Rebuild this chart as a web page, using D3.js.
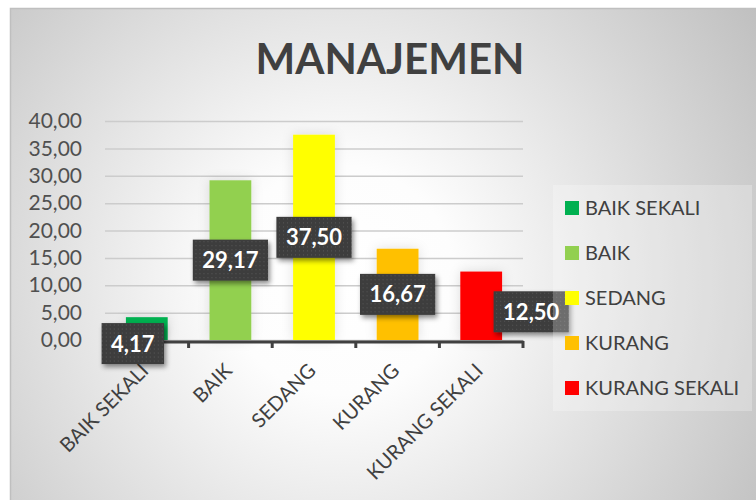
<html>
  <head>
    <script src="https://d3js.org/d3.v7.min.js"></script>
    <style>
      body { margin: 0; background: #fff; }
      text { font-family: Lato, "Open Sans", sans-serif; }
    </style>
  </head>
  <body>
    <div id="vis"></div>
  </body>
  <script>
    // chart values
    var categories = ["BAIK SEKALI", "BAIK", "SEDANG", "KURANG", "KURANG SEKALI"]
    var values = [4.17, 29.17, 37.50, 16.67, 12.50]
    var colors = ["#00b050", "#92d050", "#ffff00", "#ffc000", "#ff0000"]
    var yTicks = [0, 5, 10, 15, 20, 25, 30, 35, 40]
    var title = "MANAJEMEN"

    // labels that were dragged off the bar centre in the original
    var labelShift = {"BAIK SEKALI": [-14, 15], "KURANG SEKALI": [50, 6]}

    var width = 756, height = 500
    var plot = {left: 105, right: 523, top: 121, bottom: 340}

    var fmt = function(d) { return d.toFixed(2).replace(".", ",") }

    var svg = d3.select("#vis")
      .append("svg")
      .attr("width", width)
      .attr("height", height)

    var defs = svg.append("defs")

    // background gradient
    var bg = defs.append("radialGradient")
      .attr("id", "bg")
      .attr("gradientUnits", "userSpaceOnUse")
      .attr("cx", 340).attr("cy", 280).attr("r", 520)
    bg.append("stop").attr("offset", 0).attr("stop-color", "#ffffff")
    bg.append("stop").attr("offset", 0.22).attr("stop-color", "#fdfdfd")
    bg.append("stop").attr("offset", 1).attr("stop-color", "#bcbcbc")

    // dotted fill for the data labels
    var pat = defs.append("pattern")
      .attr("id", "dots")
      .attr("width", 4).attr("height", 4)
      .attr("patternUnits", "userSpaceOnUse")
    pat.append("rect").attr("width", 4).attr("height", 4).attr("fill", "#3d3d3d")
    pat.append("rect").attr("x", 1).attr("y", 1).attr("width", 1).attr("height", 1).attr("fill", "#575757")

    var shadow = defs.append("filter")
      .attr("id", "shadow")
      .attr("x", "-30%").attr("y", "-30%").attr("width", "160%").attr("height", "160%")
    shadow.append("feDropShadow")
      .attr("dx", 2).attr("dy", 3).attr("stdDeviation", 2.5)
      .attr("flood-color", "#000").attr("flood-opacity", 0.45)

    var glow = defs.append("filter")
      .attr("id", "glow")
      .attr("x", "-60%").attr("y", "-30%").attr("width", "220%").attr("height", "160%")
    glow.append("feDropShadow")
      .attr("dx", 0).attr("dy", 0).attr("stdDeviation", 6)
      .attr("flood-color", "#000").attr("flood-opacity", 0.12)

    // chart area
    svg.append("rect")
      .attr("x", 10.5).attr("y", 8.5)
      .attr("width", width).attr("height", height)
      .attr("fill", "url(#bg)")
      .attr("stroke", "#bfbfbf")
      .attr("stroke-width", 1.5)

    // title
    svg.append("text")
      .text(title)
      .attr("x", 390)
      .attr("y", 74)
      .attr("text-anchor", "middle")
      .attr("font-size", 42)
      .attr("font-weight", "bold")
      .attr("fill", "#404040")

    // scales
    var x = d3.scaleBand()
      .domain(categories)
      .range([plot.left, plot.right])
      .paddingInner(0.5)
      .paddingOuter(0.25)

    var y = d3.scaleLinear()
      .domain([0, 40])
      .range([plot.bottom, plot.top])

    // y axis + gridlines
    var yAxis = svg.append("g")
      .attr("transform", "translate(" + plot.left + ",0)")
      .call(d3.axisLeft(y)
        .tickValues(yTicks)
        .tickFormat(fmt)
        .tickSize(-(plot.right - plot.left))
        .tickPadding(23))
    yAxis.select(".domain").remove()
    yAxis.selectAll("line").attr("stroke", "#cccccc").attr("stroke-width", 1.5)
    yAxis.selectAll("text")
      .attr("font-size", 21)
      .attr("fill", "#505050")
      .style("font-family", "Lato, sans-serif")

    // bars
    svg.append("g")
      .selectAll("rect")
      .data(categories)
      .join("rect")
      .attr("x", function(d) { return x(d) })
      .attr("width", x.bandwidth())
      .attr("y", function(d, i) { return y(values[i]) })
      .attr("height", function(d, i) { return y(0) - y(values[i]) })
      .attr("fill", function(d, i) { return colors[i] })
      .attr("filter", "url(#glow)")

    // x axis line + ticks on the category borders
    var xAxis = svg.append("g")
      .attr("transform", "translate(0," + y(0) + ")")
      .call(d3.axisBottom(x).tickSize(0).tickFormat(""))
    xAxis.select(".domain")
      .attr("stroke", "#404040")
      .attr("stroke-width", 3)
      .attr("transform", "translate(0,1.5)")

    var borders = d3.range(categories.length + 1).map(function(i) { return plot.left + i * x.step() })
    svg.append("g")
      .selectAll("line")
      .data(borders)
      .join("line")
      .attr("x1", function(d) { return d }).attr("x2", function(d) { return d })
      .attr("y1", y(0) + 1).attr("y2", y(0) + 8)
      .attr("stroke", "#404040")
      .attr("stroke-width", 3)

    // category labels, rotated
    svg.append("g")
      .selectAll("text")
      .data(categories)
      .join("text")
      .text(function(d) { return d })
      .attr("text-anchor", "end")
      .attr("font-size", 20)
      .attr("fill", "#404040")
      .attr("transform", function(d) {
        var cx = x(d) + x.bandwidth() / 2
        return "translate(" + (cx + 3) + "," + (y(0) + 32) + ") rotate(-45)"
      })

    // data labels
    var lab = svg.append("g")
      .selectAll("g")
      .data(categories)
      .join("g")
      .attr("transform", function(d, i) {
        var s = labelShift[d] || [0, 0]
        var cx = x(d) + x.bandwidth() / 2 + s[0]
        var cy = y(values[i] / 2) + s[1]
        return "translate(" + cx + "," + cy + ")"
      })

    lab.append("rect")
      .attr("filter", "url(#shadow)")
      .attr("fill", "url(#dots)")

    lab.append("text")
      .text(function(d, i) { return fmt(values[i]) })
      .attr("text-anchor", "middle")
      .attr("dy", "0.36em")
      .attr("font-size", 22)
      .attr("font-weight", "bold")
      .attr("fill", "#ffffff")

    lab.each(function() {
      var g = d3.select(this)
      var w = g.select("text").node().getComputedTextLength() + 19
      g.select("rect")
        .attr("x", -w / 2).attr("y", -20.5)
        .attr("width", w).attr("height", 41)
    })

    // legend
    var legend = svg.append("g")
    legend.append("rect")
      .attr("x", 553).attr("y", 185)
      .attr("width", 199).attr("height", 226)
      .attr("fill", "#ffffff")
      .attr("fill-opacity", 0.25)

    var item = legend.selectAll("g")
      .data(categories)
      .join("g")
      .attr("transform", function(d, i) { return "translate(565," + (208 + i * 45) + ")" })

    item.append("rect")
      .attr("y", -7)
      .attr("width", 14).attr("height", 14)
      .attr("fill", function(d, i) { return colors[i] })

    item.append("text")
      .text(function(d) { return d })
      .attr("x", 20)
      .attr("dy", "0.36em")
      .attr("font-size", 20)
      .attr("fill", "#404040")
  </script>
</html>
